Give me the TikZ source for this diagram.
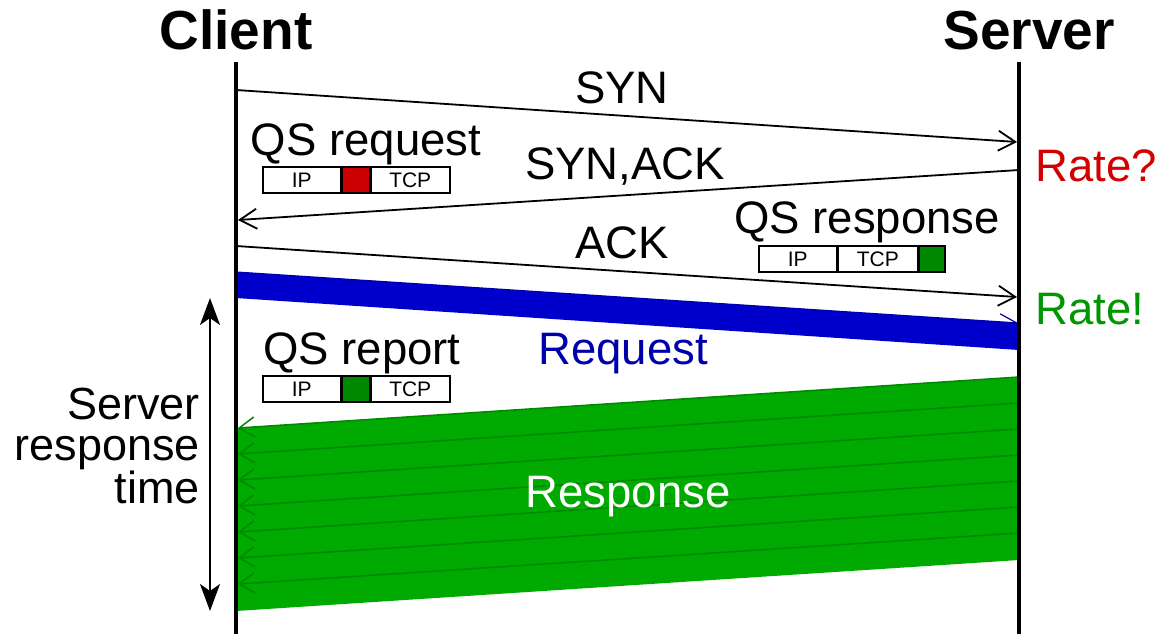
\documentclass[tikz,border=0pt]{standalone}
\usepackage{fontspec}
\setmainfont{Liberation Sans}
\usetikzlibrary{arrows.meta}
\definecolor{qred}{RGB}{204,0,0}
\definecolor{ratered}{RGB}{210,0,0}
\definecolor{rategreen}{RGB}{0,150,0}
\definecolor{bandgreen}{RGB}{0,170,0}
\definecolor{arrgreen}{RGB}{0,136,0}
\definecolor{cellgreen}{RGB}{0,136,0}
\definecolor{bandblue}{RGB}{0,0,204}
\definecolor{textblue}{RGB}{0,0,170}
\begin{document}
\begin{tikzpicture}[x=1pt,y=-1pt,
  lifeline/.style={line width=4pt},
  msg/.style={line width=1.8pt, -{Straight Barb[length=17pt,width=20pt,line width=1.8pt]}},
  lbl/.style={font=\fontsize{45.5}{41}\selectfont, inner sep=0pt, anchor=base},
  head/.style={font=\fontsize{55}{55}\selectfont\bfseries, inner sep=0pt, anchor=base},
  cell/.style={draw, line width=1.5pt, inner sep=0pt, minimum height=26pt, anchor=west, font=\fontsize{21}{21}\selectfont},
  resparrow/.style={draw=arrgreen, line width=1.5pt, -{Straight Barb[length=15pt,width=20pt,line width=1.5pt]}},
]
\useasboundingbox (0,0) rectangle (1158,634);

% lifelines
\coordinate (cTop) at (236,62);
\coordinate (cBot) at (236,634);
\coordinate (sTop) at (1019,62);
\coordinate (sBot) at (1019,634);

% bands
\fill[bandblue] (236,272) -- (1019,323) -- (1019,350) -- (236,298) -- cycle;
\coordinate (bS) at (236,272);
\coordinate (bE) at (1018,323);
\draw[draw=textblue, line width=1.2pt, -{Straight Barb[length=17pt,width=16pt,line width=1.2pt]}] (bS) -- (bE);

\fill[bandgreen] (1019,377) -- (236,428) -- (236,611) -- (1019,560) -- cycle;
\foreach \k in {0,...,6}{
  \coordinate (r\k) at (1019,377+26*\k);
  \coordinate (l\k) at (238,428+26*\k);
  \draw[resparrow] (r\k) -- (l\k);
}

\draw[lifeline] (cTop) -- (cBot);
\draw[lifeline] (sTop) -- (sBot);

\node[head] (client) at (236,50) {Client};
\node[head] (server) at (1029,50) {Server};

% messages
\coordinate (synS) at (236,90);
\coordinate (synE) at (1017,142);
\draw[msg] (synS) -- (synE);
\node[lbl] (syn) at (622,103) {SYN};

\coordinate (saS) at (1019,170);
\coordinate (saE) at (238,220);
\draw[msg] (saS) -- (saE);
\node[lbl] (synack) at (625,179) {SYN,ACK};

\coordinate (ackS) at (236,246);
\coordinate (ackE) at (1017,297);
\draw[msg] (ackS) -- (ackE);
\node[lbl] (ack) at (622,258) {ACK};

% QS request
\node[lbl] (qsreq) at (366,155) {QS request};
\node[cell, minimum width=78pt] (rq1) at (262,180) {IP};
\node[cell, minimum width=27pt, fill=qred] (rq2) at (rq1.east) {};
\node[cell, minimum width=79pt] (rq3) at (rq2.east) {TCP};

% QS response
\node[lbl] (qsresp) at (867,233) {QS response};
\node[cell, minimum width=78pt] (rs1) at (758,259) {IP};
\node[cell, minimum width=79pt] (rs2) at (rs1.east) {TCP};
\node[cell, minimum width=26pt, fill=cellgreen] (rs3) at (rs2.east) {};

% QS report
\node[lbl] (qsrep) at (362,364) {QS report};
\node[cell, minimum width=78pt] (rp1) at (262,389) {IP};
\node[cell, minimum width=27pt, fill=cellgreen] (rp2) at (rp1.east) {};
\node[cell, minimum width=79pt] (rp3) at (rp2.east) {TCP};

% rates
\node[lbl, anchor=base west, text=ratered] (rateq) at (1035,181) {Rate?};
\node[lbl, anchor=base west, text=rategreen] (ratex) at (1035,324) {Rate!};

\node[lbl, text=textblue] (req) at (623,364) {Request};
\node[lbl, text=white] (resp) at (628,507) {Response};

% server response time
\coordinate (tTop) at (210,298);
\coordinate (tBot) at (210,611);
\draw[line width=1.8pt, {Stealth[length=27pt,width=20pt,inset=7pt]}-{Stealth[length=27pt,width=20pt,inset=7pt]}] (tTop) -- (tBot);
\node[lbl, anchor=base east, align=right, font=\fontsize{45}{40.5}\selectfont] (srt) at (200,503) {Server\\response\\time};
\end{tikzpicture}
\end{document}
